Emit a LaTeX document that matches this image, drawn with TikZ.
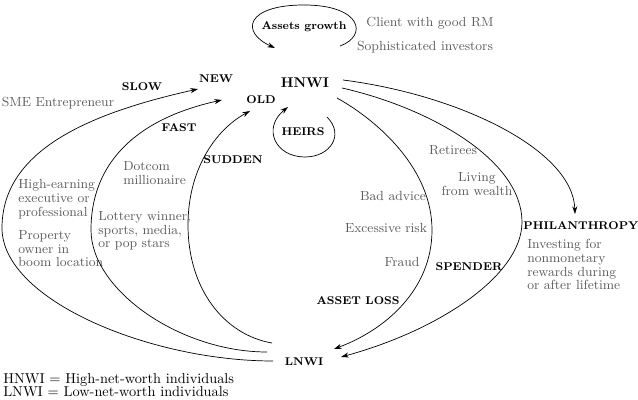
\documentclass[tikz,border=0pt]{standalone}
\usepackage{tikz}
\usetikzlibrary{arrows.meta}
\definecolor{notegray}{HTML}{5E5E5E}

\begin{document}
\begin{tikzpicture}[x=0.025cm, y=-0.025cm, >={Stealth[length=5.5pt,width=3.6pt]},
  tag/.style={font=\fontsize{8}{9}\selectfont\bfseries, inner sep=0},
  note/.style={font=\fontsize{9.4}{9.8}\selectfont, text=notegray, inner sep=0},
  key/.style={anchor=base west, inner sep=0, font=\fontsize{10.2}{11}\selectfont},
  flow/.style={->, line width=0.5pt}]
  \useasboundingbox (0,0) rectangle (638,400);
  % the two poles and the labels round them
  \node[tag, font=\fontsize{10}{11}\selectfont\bfseries] (hnwi) at (305,83) {HNWI};
  \node[tag] (lnwi) at (304,362) {LNWI};
  \node[tag] (assets) at (304,27) {Assets growth};
  \node[tag] (heirs) at (303,132) {HEIRS};
  \node[tag] (new) at (216,79) {NEW};
  \node[tag] (old) at (261,100) {OLD};
  \node[tag] (slow) at (142,87) {SLOW};
  \node[tag] (fast) at (179,128) {FAST};
  \node[tag] (sudden) at (233,160) {SUDDEN};
  \node[tag] (spender) at (469,267) {SPENDER};
  \node[tag] (assetloss) at (358,301) {ASSET LOSS};
  \node[tag] (philanthropy) at (581,226) {PHILANTHROPY};
  % who climbs
  \node[note] (client) at (430,23) {Client with good RM};
  \node[note] (sophist) at (425,47) {Sophisticated investors};
  \node[note] (sme) at (58,103) {SME Entrepreneur};
  \node[note, anchor=north west, align=left] (highearn) at (18,179) {High-earning\\ executive or\\ professional};
  \node[note, anchor=north west, align=left] (property) at (18,230) {Property\\ owner in\\ boom location};
  \node[note, anchor=north west, align=left] (dotcom) at (123,161) {Dotcom\\ millionaire};
  \node[note, anchor=north west, align=left] (lottery) at (98,211) {Lottery winner,\\ sports, media,\\ or pop stars};
  % who falls
  \node[note] (retirees) at (453,150) {Retirees};
  \node[note, align=center] (living) at (477,184) {Living\\ from wealth};
  \node[note] (badadvice) at (393,196) {Bad advice};
  \node[note] (excrisk) at (386,228) {Excessive risk};
  \node[note] (fraud) at (402,262) {Fraud};
  \node[note, anchor=north west, align=left] (investing) at (527,239) {Investing for\\ nonmonetary\\ rewards during\\ or after lifetime};
  % key
  \node[key] (keyh) at (3,383) {HNWI = High-net-worth individuals};
  \node[key] (keyl) at (3,396) {LNWI = Low-net-worth individuals};

  % ends of the connectors
  \coordinate (slowfoot) at (273,361);
  \coordinate (slowtip) at (198,89);
  \coordinate (fastfoot) at (267,352);
  \coordinate (fasttip) at (222,100);
  \coordinate (suddenfoot) at (272,343);
  \coordinate (suddentip) at (250,111);
  \coordinate (losstop) at (337,98);
  \coordinate (losstip) at (334,349);
  \coordinate (spendtop) at (342,88);
  \coordinate (spendtip) at (341,357);
  \coordinate (givetop) at (343,80);
  \coordinate (givetip) at (575,214);
  \coordinate (growstart) at (340,46);
  \coordinate (growend) at (275,48);
  \coordinate (heirstart) at (327,117);
  \coordinate (heirend) at (288,107);

  % the way up
  \draw[flow] (slowfoot) .. controls (150,361) and (2,300) .. (2,228)
    .. controls (2,150) and (90,113) .. (slowtip);
  \draw[flow] (fastfoot) .. controls (180,352) and (91,290) .. (91,230)
    .. controls (91,160) and (140,118) .. (fasttip);
  \draw[flow] (suddenfoot) .. controls (225,335) and (188,290) .. (188,225)
    .. controls (188,170) and (215,130) .. (suddentip);
  % the way down
  \draw[flow] (losstop) .. controls (380,122) and (432,170) .. (432,230)
    .. controls (432,290) and (385,330) .. (losstip);
  \draw[flow] (spendtop) .. controls (430,108) and (522,160) .. (522,222)
    .. controls (522,275) and (440,330) .. (spendtip);
  \draw[flow] (givetop) .. controls (460,95) and (573,150) .. (givetip);
  % loops
  \draw[flow] (growstart) .. controls (368,36) and (362,5) .. (304,5)
    .. controls (246,5) and (240,32) .. (growend);
  \draw[flow] (heirstart) .. controls (345,135) and (330,157) .. (305,157)
    .. controls (275,157) and (262,128) .. (heirend);
\end{tikzpicture}
\end{document}
